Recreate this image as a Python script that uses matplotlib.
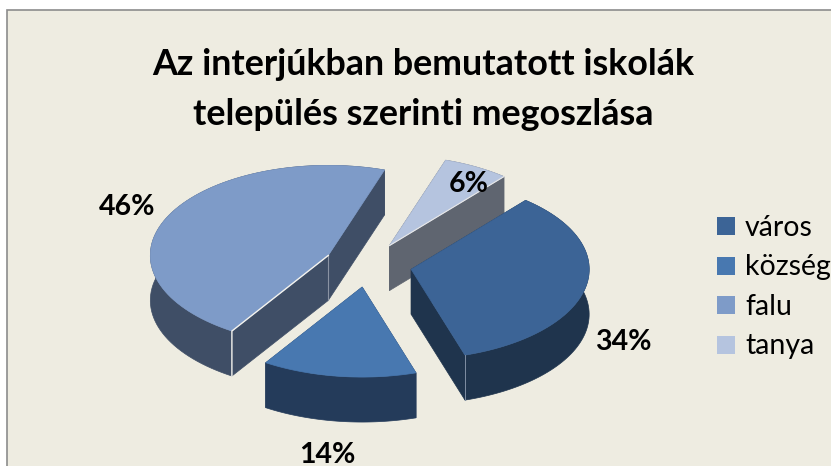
import numpy as np
from matplotlib import pyplot as plt
from matplotlib.patches import Polygon, Rectangle

title = 'Az interjúkban bemutatott iskolák\ntelepülés szerinti megoszlása'
categories = ['város', 'község', 'falu', 'tanya']
values = [34, 14, 46, 6]
top_colors = ['#3c6496', '#4878b0', '#7e9bc8', '#b5c4df']
side_colors = ['#1f344d', '#243b5a', '#3f4e66', '#5f6570']
label_pos = [(623, 342), (327, 455), (127, 207), (469, 184)]

plt.rcParams['font.family'] = ['Lato', 'DejaVu Sans']

RX, RY = 178, 90
DEPTH = 45
CX, CY = 368, 265
EXPLODE = 44
START = 50.0


def arc(x0, y0, a1, a2, n=80):
    t = np.radians(np.linspace(a1, a2, n))
    # y axis points down here, the axes work in image pixels
    return np.column_stack([x0 + RX * np.cos(t), y0 - RY * np.sin(t)])


def draw_slice(ax, value, start, top, side):
    end = start - value * 3.6
    mid = np.radians((start + end) / 2)
    x0 = CX + EXPLODE * np.cos(mid)
    y0 = CY - EXPLODE * RY / RX * np.sin(mid)
    rim = arc(x0, y0, start, end)
    down = np.array([0, DEPTH])
    apex = np.array([x0, y0])

    # cut faces, then outer wall, then the lid on top
    for p in (rim[0], rim[-1]):
        ax.add_patch(Polygon([apex, p, p + down, apex + down], fc=side, ec=side, lw=0.5))
    ax.add_patch(Polygon(np.vstack([rim, (rim + down)[::-1]]), fc=side, ec=side, lw=0.5))
    ax.add_patch(Polygon(np.vstack([apex, rim]), fc=top, ec=top, lw=0.5))
    return apex, rim


fig = plt.figure(figsize=(8.31, 4.66), dpi=100, facecolor='white')
ax = fig.add_axes([0, 0, 1, 1])
ax.set_xlim(0, 831)
ax.set_ylim(466, 0)
ax.axis('off')
ax.add_patch(Rectangle((6.5, 9.5), 840, 470, fc='#eeece1', ec='#8c8c8c', lw=1.2))

angles = {}
a = START
for i, v in enumerate(values):
    angles[i] = a
    a -= v * 3.6

# back to front
for i in [3, 2, 1, 0]:
    apex, rim = draw_slice(ax, values[i], angles[i], top_colors[i], side_colors[i])
    if categories[i] == 'falu':
        p = rim[0]
        ax.plot([apex[0], apex[0]], [apex[1], apex[1] + DEPTH], color='#8a93a3', lw=0.8)
        ax.plot([apex[0], p[0], p[0]], [apex[1], p[1], p[1] + DEPTH], color='#f4f3ee', lw=1.0,
                solid_joinstyle='miter')
    if categories[i] == 'tanya':
        ax.plot([apex[0], rim[-1][0]], [apex[1], rim[-1][1]], color='#e8e8e8', lw=0.8)
    if categories[i] == 'város':
        p = rim[-1]
        ax.plot([p[0], p[0]], [p[1], p[1] + DEPTH], color='#7f8ea3', lw=0.7)

ax.text(423, 89.5, title, ha='center', va='center', fontsize=25.8, fontweight='bold',
        color='black', linespacing=1.66)

for v, (x, y) in zip(values, label_pos):
    ax.text(x, y, f'{v}%', ha='center', va='center', fontsize=20.5, fontweight='bold', color='black')

for i, name in enumerate(categories):
    y = 226 + i * 39.6
    ax.add_patch(Rectangle((717, y - 9), 18, 18, fc=top_colors[i], ec='none'))
    ax.text(745, y + 1.5, name, ha='left', va='center', fontsize=20.5, color='black')

fig.savefig('out.png', dpi=100)
